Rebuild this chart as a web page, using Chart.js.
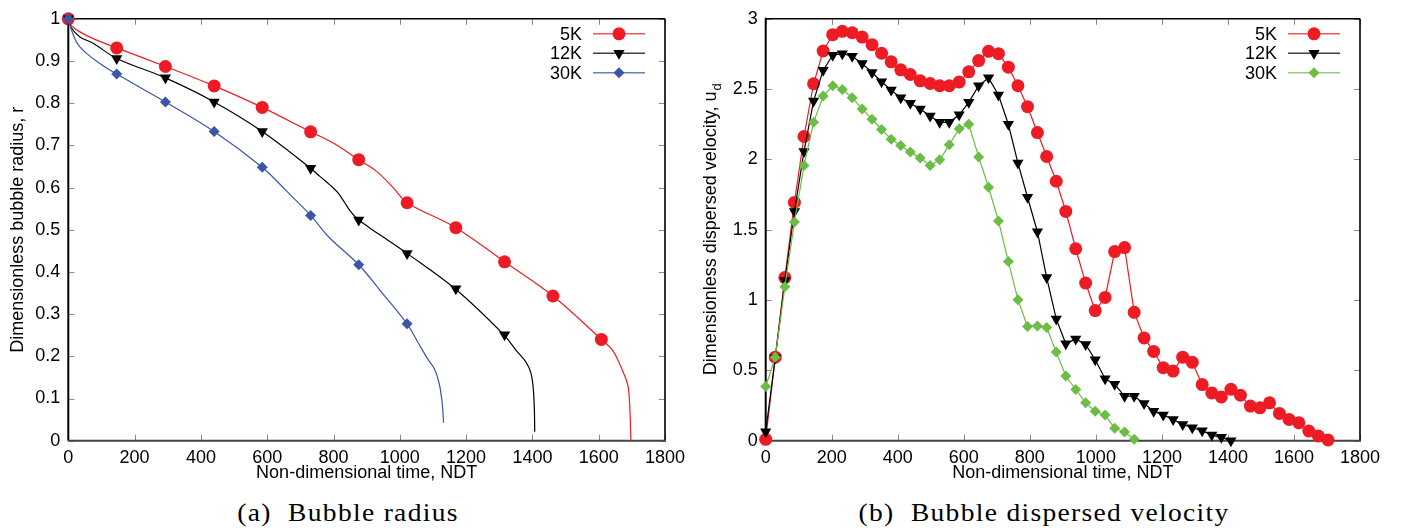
<!DOCTYPE html>
<html>
<head>
<meta charset="utf-8">
<script src="https://cdn.jsdelivr.net/npm/chart.js@4.4.1/dist/chart.umd.min.js"></script>
<style>
  html, body { margin: 0; padding: 0; background: #fff; }
  #page { position: relative; width: 1401px; height: 530px; overflow: hidden; }
  canvas { position: absolute; top: 0; }
  .caption { position: absolute; top: 499px; font: 25px "Liberation Serif", serif; letter-spacing: 1.2px; color: #000; white-space: pre; transform: translateX(-50%) scaleX(1.1); }
</style>
</head>
<body>
<div id="page">
  <canvas id="radius-chart" width="700" height="490" style="left:0"></canvas>
  <canvas id="velocity-chart" width="701" height="490" style="left:700px"></canvas>
  <div class="caption" style="left:348px">(a)  Bubble radius</div>
  <div class="caption" style="left:1044px">(b)  Bubble dispersed velocity</div>
</div>
<script>
// ---- (a) bubble radius : marker positions (every ~146 NDT) ----
const radiusMarkerT = [0, 146, 293, 440, 585, 731, 876, 1022, 1169, 1316, 1462, 1608];
const radius5kMarks = [1, 0.931, 0.887, 0.841, 0.790, 0.732, 0.666, 0.564, 0.505, 0.424, 0.343, 0.240];
const radius12kMarks = [1, 0.906, 0.860, 0.803, 0.733, 0.646, 0.523, 0.444, 0.360, 0.251];
const radius30kMarks = [1, 0.869, 0.803, 0.733, 0.648, 0.534, 0.417, 0.277];

// smooth curves (marker points + extra points)
const radius5kCurveT = [0, 8, 35, 75, 146, 293, 440, 585, 731, 798, 876, 929, 980, 1022, 1169, 1316, 1462, 1608, 1642, 1667, 1687, 1692, 1695, 1697];
const radius5kCurveR = [1, 0.985, 0.969, 0.953, 0.931, 0.887, 0.841, 0.790, 0.732, 0.706, 0.666, 0.639, 0.600, 0.564, 0.505, 0.424, 0.343, 0.240, 0.214, 0.175, 0.135, 0.104, 0.057, 0];
const radius12kCurveT = [0, 8, 35, 75, 146, 293, 440, 585, 731, 758, 788, 813, 834, 849, 863, 876, 908, 959, 1022, 1167, 1314, 1351, 1381, 1396, 1403, 1406, 1407];
const radius12kCurveR = [1, 0.980, 0.957, 0.942, 0.906, 0.860, 0.803, 0.733, 0.646, 0.627, 0.607, 0.588, 0.564, 0.546, 0.533, 0.523, 0.505, 0.478, 0.444, 0.360, 0.251, 0.214, 0.186, 0.159, 0.120, 0.072, 0.021];
const radius30kCurveT = [0, 5, 15, 30, 55, 95, 146, 293, 440, 585, 658, 731, 788, 876, 949, 1022, 1054, 1084, 1104, 1119, 1128, 1132];
const radius30kCurveR = [1, 0.985, 0.962, 0.938, 0.918, 0.894, 0.869, 0.803, 0.733, 0.648, 0.592, 0.534, 0.481, 0.417, 0.348, 0.277, 0.234, 0.194, 0.171, 0.135, 0.088, 0.0425];

// ---- (b) dispersed velocity : one marker every ~29 NDT ----
const velocityT = [0, 29, 58, 87, 116, 145, 174, 203, 232, 262, 292, 322, 351, 380, 409, 438, 468, 498, 527, 556,
  586, 615, 645, 675, 705, 735, 764, 793, 823, 851, 880, 909, 939, 969, 998, 1028, 1057, 1087, 1116, 1146,
  1175, 1204, 1234, 1263, 1292, 1322, 1351, 1380, 1409, 1438, 1468, 1497, 1526, 1556, 1585, 1615, 1645, 1674, 1703];
const velocity5k = [0.01, 0.594, 1.16, 1.694, 2.163, 2.538, 2.771, 2.887, 2.911, 2.901, 2.870, 2.816, 2.755, 2.694, 2.637, 2.604, 2.559, 2.540, 2.524, 2.524,
  2.550, 2.623, 2.703, 2.769, 2.752, 2.656, 2.524, 2.375, 2.191, 2.021, 1.845, 1.630, 1.365, 1.121, 0.925, 1.019, 1.345, 1.373, 0.913, 0.731,
  0.635, 0.519, 0.495, 0.594, 0.557, 0.399, 0.340, 0.311, 0.366, 0.323, 0.246, 0.234, 0.269, 0.194, 0.151, 0.127, 0.069, 0.033, 0.005];
const velocity12k = [0.064, 0.59, 1.14, 1.63, 2.057, 2.415, 2.635, 2.741, 2.752, 2.734, 2.682, 2.618, 2.552, 2.493, 2.439, 2.399, 2.359, 2.309, 2.264, 2.264,
  2.317, 2.406, 2.524, 2.580, 2.458, 2.250, 1.974, 1.731, 1.486, 1.160, 0.866, 0.689, 0.724, 0.684, 0.576, 0.441, 0.401, 0.316, 0.316, 0.264,
  0.210, 0.182, 0.151, 0.116, 0.092, 0.071, 0.040, 0.024, 0.0];
const velocity30k = [0.385, 0.594, 1.095, 1.555, 1.956, 2.264, 2.451, 2.524, 2.498, 2.439, 2.359, 2.286, 2.213, 2.144, 2.099, 2.052, 2.010, 1.956, 1.998, 2.104,
  2.218, 2.250, 2.017, 1.802, 1.562, 1.274, 1.003, 0.812, 0.816, 0.805, 0.630, 0.460, 0.364, 0.269, 0.210, 0.182, 0.088, 0.062, 0.010];

// axis ticks
const timeTicks = [0, 200, 400, 600, 800, 1000, 1200, 1400, 1600, 1800];
const radiusTicks = [0, 0.1, 0.2, 0.3, 0.4, 0.5, 0.6, 0.7, 0.8, 0.9, 1];
const velocityTicks = [0, 0.5, 1, 1.5, 2, 2.5, 3];

const seriesNames = ['5K', '12K', '30K'];
const RED = '#ed1c24', BLACK = '#000000', BLUE = '#3a56a5', GREEN = '#6cbd45';
const FONT = '18px "Liberation Sans", Arial, sans-serif';
const SUB_FONT = '13px "Liberation Sans", Arial, sans-serif';

const pts = (xs, ys) => ys.map((y, i) => ({ x: xs[i], y }));

const markerStyle = {
  circle: { pointStyle: 'circle', radius: 6.5, rotation: 0 },
  tri: { pointStyle: 'triangle', radius: 6.5, rotation: 180 },
  diamond: { pointStyle: 'rectRot', radius: 5.5, rotation: 0 },
};

// draws a marker the same way in the legend
function drawMarker(ctx, kind, x, y, color) {
  ctx.fillStyle = color;
  ctx.beginPath();
  if (kind === 'circle') ctx.arc(x, y, 6.5, 0, Math.PI * 2);
  else if (kind === 'tri') {
    const r = 6.5;
    ctx.moveTo(x, y + r);
    ctx.lineTo(x - r * 0.866, y - r * 0.5);
    ctx.lineTo(x + r * 0.866, y - r * 0.5);
  } else {
    const r = 5.5;
    ctx.moveTo(x, y - r); ctx.lineTo(x + r, y); ctx.lineTo(x, y + r); ctx.lineTo(x - r, y);
  }
  ctx.closePath();
  ctx.fill();
}

// gnuplot-like frame: inward ticks on all four sides
const framePlugin = {
  id: 'frame',
  beforeDatasetsDraw(chart) {
    const { ctx, chartArea: a, scales: { x, y } } = chart;
    ctx.save();
    ctx.strokeStyle = '#8a8a8a';
    ctx.lineWidth = 1;
    const seg = (x1, y1, x2, y2) => { ctx.beginPath(); ctx.moveTo(x1, y1); ctx.lineTo(x2, y2); ctx.stroke(); };
    x.ticks.forEach((t) => {
      const px = Math.round(x.getPixelForValue(t.value)) + 0.5;
      seg(px, a.bottom, px, a.bottom - 6);
      seg(px, a.top, px, a.top + 6);
    });
    y.ticks.forEach((t) => {
      const py = Math.round(y.getPixelForValue(t.value)) + 0.5;
      seg(a.left, py, a.left + 6, py);
      seg(a.right, py, a.right - 6, py);
    });
    ctx.strokeStyle = '#000';
    ctx.lineWidth = 1.6;
    seg(a.left, a.top, a.right, a.top);
    seg(a.right, a.top, a.right, a.bottom);
    ctx.lineWidth = 2;
    seg(a.left, a.top - 1, a.left, a.bottom);
    ctx.strokeStyle = '#444';
    seg(a.left, a.bottom, a.right + 1, a.bottom);
    ctx.restore();
  },
};

// y-axis title (rotated, optional subscript) + legend box in the top right corner
const annotatePlugin = {
  id: 'annotate',
  afterDraw(chart, args, opts) {
    const { ctx, chartArea: a } = chart;
    ctx.save();
    ctx.fillStyle = '#000';
    ctx.translate(opts.titleX, (a.top + a.bottom) / 2);
    ctx.rotate(-Math.PI / 2);
    ctx.textBaseline = 'alphabetic';
    ctx.textAlign = 'left';
    ctx.font = FONT;
    const wMain = ctx.measureText(opts.title).width;
    ctx.font = SUB_FONT;
    const wSub = opts.sub ? ctx.measureText(opts.sub).width : 0;
    const x0 = -(wMain + wSub) / 2;
    ctx.font = FONT;
    ctx.fillText(opts.title, x0, 0);
    if (opts.sub) { ctx.font = SUB_FONT; ctx.fillText(opts.sub, x0 + wMain + 1, 5); }
    ctx.restore();

    ctx.save();
    ctx.font = FONT;
    ctx.textAlign = 'right';
    ctx.textBaseline = 'middle';
    opts.items.forEach((it, i) => {
      const yy = a.top + 15 + i * 19.5;
      ctx.fillStyle = '#000';
      ctx.fillText(it.label, a.right - 83, yy + 1);
      ctx.strokeStyle = it.color;
      ctx.globalAlpha = 0.75;
      ctx.lineWidth = 1.5;
      ctx.beginPath(); ctx.moveTo(a.right - 72, yy); ctx.lineTo(a.right - 20, yy); ctx.stroke();
      ctx.globalAlpha = 1;
      drawMarker(ctx, it.marker, a.right - 46, yy, it.color);
    });
    ctx.restore();
  },
};

function axes(yTicks, yMax, yWidth) {
  const tickFont = { family: '"Liberation Sans", Arial, sans-serif', size: 18 };
  const fmt = (v) => String(+Number(v).toFixed(2));
  return {
    x: {
      type: 'linear', min: 0, max: 1800,
      afterBuildTicks: (s) => { s.ticks = timeTicks.map((v) => ({ value: v })); },
      afterFit: (s) => { s.height = 49.3; },
      grid: { display: false, drawTicks: false },
      border: { display: false },
      ticks: { font: tickFont, color: '#000', padding: 7, maxRotation: 0, autoSkip: false, callback: fmt },
      title: { display: true, text: 'Non-dimensional time, NDT', font: tickFont, color: '#000', padding: { top: 0, bottom: 6 } },
    },
    y: {
      type: 'linear', min: 0, max: yMax,
      afterBuildTicks: (s) => { s.ticks = yTicks.map((v) => ({ value: v })); },
      afterFit: (s) => { s.width = yWidth; },
      grid: { display: false, drawTicks: false },
      border: { display: false },
      ticks: { font: tickFont, color: '#000', padding: 8, autoSkip: false, callback: fmt },
    },
  };
}

const common = { responsive: false, animation: false, devicePixelRatio: 1, events: [] };

function curveSet(xs, ys, color, order) {
  return { type: 'line', data: pts(xs, ys), borderColor: color, borderWidth: 1.2, pointRadius: 0,
    tension: 0.35, fill: false, clip: false, order };
}
function markSet(xs, ys, color, kind, order) {
  const m = markerStyle[kind];
  return { type: 'line', data: pts(xs, ys), showLine: false, borderColor: color, backgroundColor: color,
    pointStyle: m.pointStyle, pointRadius: m.radius, pointRotation: m.rotation, pointBorderWidth: 0, clip: false, order };
}
function lpSet(xs, ys, color, kind, order) {
  const m = markerStyle[kind];
  return { type: 'line', data: pts(xs, ys), borderColor: color, backgroundColor: color, borderWidth: 1.2, tension: 0,
    pointStyle: m.pointStyle, pointRadius: m.radius, pointRotation: m.rotation, pointBorderWidth: 0, clip: false, order };
}

new Chart(document.getElementById('radius-chart'), {
  type: 'line',
  data: {
    datasets: [
      curveSet(radius5kCurveT, radius5kCurveR, RED, 6),
      markSet(radiusMarkerT, radius5kMarks, RED, 'circle', 5),
      curveSet(radius12kCurveT, radius12kCurveR, BLACK, 4),
      markSet(radiusMarkerT, radius12kMarks, BLACK, 'tri', 3),
      curveSet(radius30kCurveT, radius30kCurveR, BLUE, 2),
      markSet(radiusMarkerT, radius30kMarks, BLUE, 'diamond', 1),
    ],
  },
  options: {
    ...common,
    layout: { padding: { left: 0, right: 35, top: 17, bottom: 0 } },
    scales: axes(radiusTicks, 1, 68.3),
    plugins: {
      legend: { display: false }, tooltip: { enabled: false },
      annotate: {
        titleX: 22.5, title: 'Dimensionless bubble radius, r',
        items: [
          { label: seriesNames[0], color: RED, marker: 'circle' },
          { label: seriesNames[1], color: BLACK, marker: 'tri' },
          { label: seriesNames[2], color: BLUE, marker: 'diamond' },
        ],
      },
    },
  },
  plugins: [framePlugin, annotatePlugin],
});

new Chart(document.getElementById('velocity-chart'), {
  type: 'line',
  data: {
    datasets: [
      lpSet(velocityT, velocity5k, RED, 'circle', 3),
      lpSet(velocityT, velocity12k, BLACK, 'tri', 2),
      lpSet(velocityT, velocity30k, GREEN, 'diamond', 1),
    ],
  },
  options: {
    ...common,
    layout: { padding: { left: 0, right: 41, top: 17, bottom: 0 } },
    scales: axes(velocityTicks, 3, 65.7),
    plugins: {
      legend: { display: false }, tooltip: { enabled: false },
      annotate: {
        titleX: 15.5, title: 'Dimensionless dispersed velocity, u', sub: 'd',
        items: [
          { label: seriesNames[0], color: RED, marker: 'circle' },
          { label: seriesNames[1], color: BLACK, marker: 'tri' },
          { label: seriesNames[2], color: GREEN, marker: 'diamond' },
        ],
      },
    },
  },
  plugins: [framePlugin, annotatePlugin],
});
</script>
</body>
</html>
